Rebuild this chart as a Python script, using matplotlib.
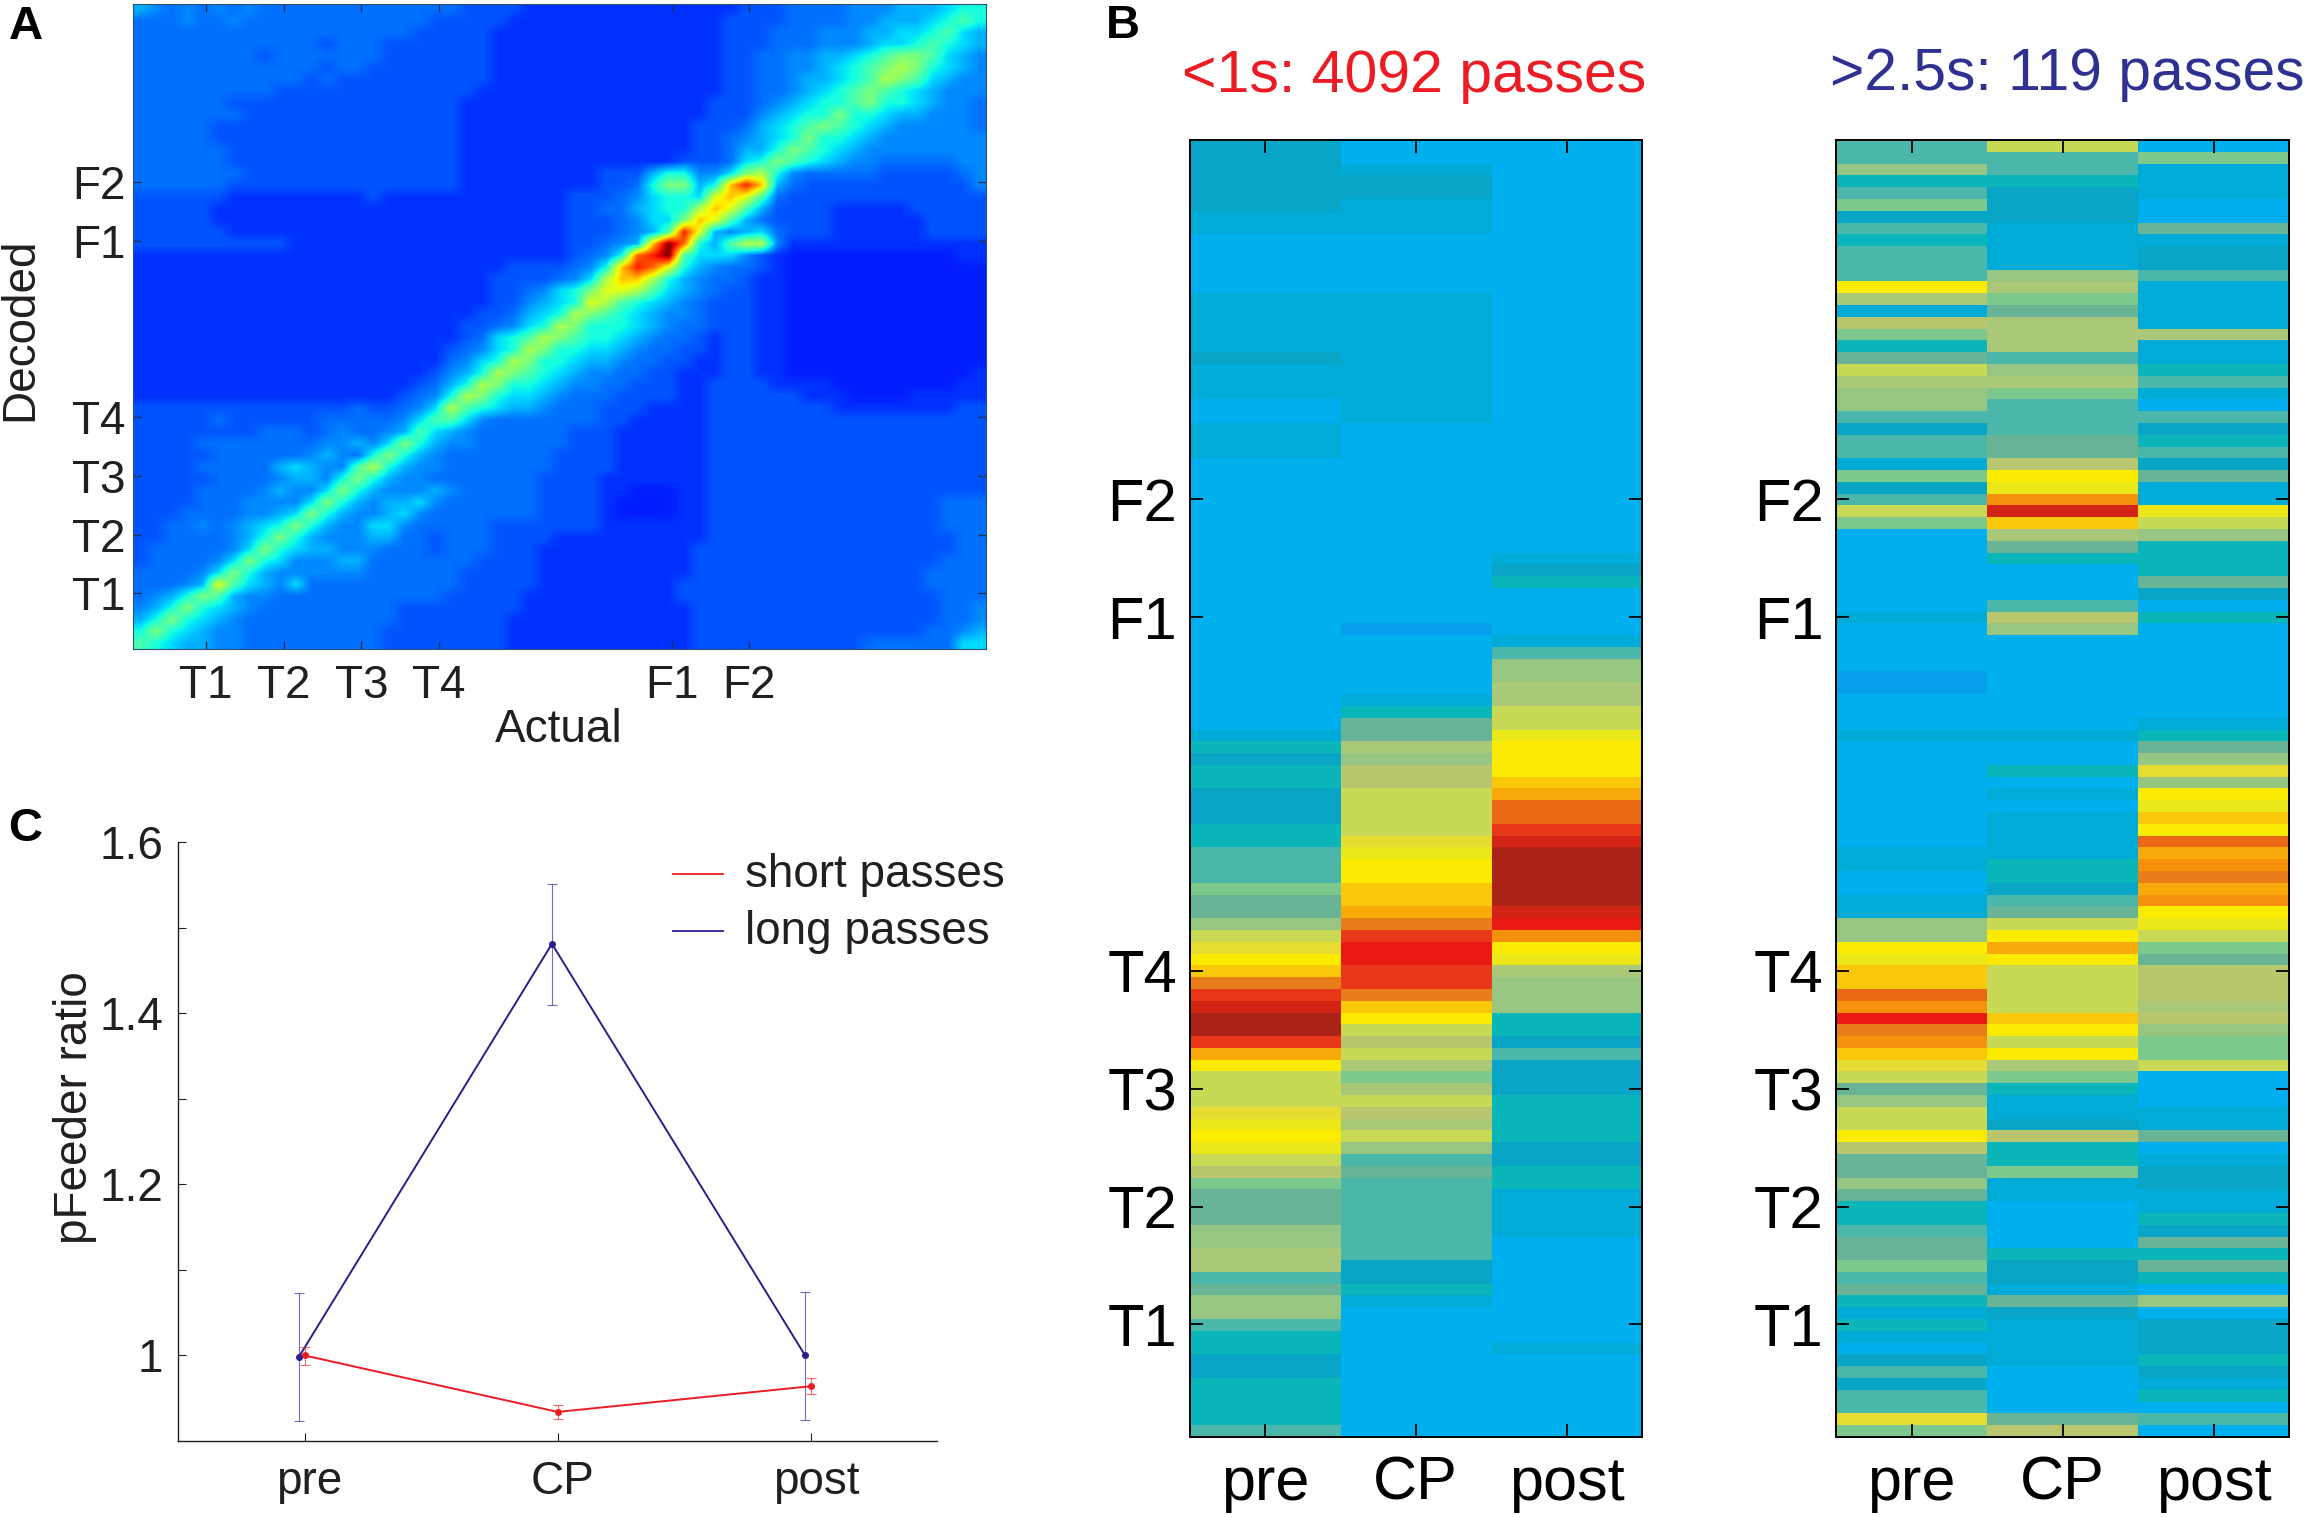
import matplotlib
matplotlib.use('Agg')
import matplotlib.pyplot as plt
import numpy as np
from matplotlib.colors import ListedColormap
from matplotlib.transforms import ScaledTranslation

plt.rcParams['font.family'] = ['Liberation Sans', 'DejaVu Sans']

W, H = 2308, 1517

# panel A: decoding matrix, one hex level per 2 position bins
a_rows = [
    "54343 43433 33333 33333 32222 11111 11111 11112 22333 34445 55677",
    "33343 34333 33333 33332 22221 11111 11111 11122 22333 34455 56787",
    "33333 33333 33333 33322 22211 11111 11111 11122 23334 44556 67865",
    "33333 33333 33233 32222 22211 11111 11111 11122 23334 44566 78765",
    "33333 33323 33333 32222 22211 11111 11111 11122 33445 56789 98654",
    "33333 33333 33233 22222 22211 11111 11111 11122 33445 6789a 97654",
    "33333 33333 32322 22222 22211 11111 11111 11122 33455 678a9 86544",
    "33333 33332 22222 22222 22111 11111 11111 11122 33456 78987 65444",
    "33333 32222 22222 22222 21111 11111 11111 11222 34567 78977 65443",
    "33333 33222 22222 22222 21111 11111 11111 11222 45677 97765 54443",
    "33333 22222 22222 22222 21111 11111 11111 12223 56789 87654 44443",
    "33333 22222 22222 22222 21111 11111 11111 12234 56797 76544 44444",
    "33333 32222 22222 22222 21111 11111 11111 12235 57987 65444 44444",
    "33333 32222 22222 22222 21111 11111 11111 22236 79876 54433 33344",
    "33333 33222 22222 22222 21111 11111 22257 74469 a7433 33322 22234",
    "33333 32222 22222 22222 21111 11111 22379 957ce c5322 22222 22224",
    "22222 21111 11111 21111 11111 11122 23467 76bcb 83222 22222 22222",
    "22222 11111 11111 11111 11111 11122 33567 7acb8 52222 11111 22222",
    "22222 11111 11111 11111 11111 11122 23466 9cb85 32222 11111 12222",
    "22222 21111 11111 11111 11111 11122 23458 eb545 63222 11111 12222",
    "22222 22222 11111 11111 11111 11122 345cf d758a a4111 11111 11111",
    "11111 11111 11111 11111 11111 11123 47def 86664 21000 00000 00011",
    "11111 11111 11111 11111 11112 22234 7cedb 75433 21000 00000 00000",
    "11111 11111 11111 11111 11122 22346 acca7 54332 11000 00000 00000",
    "11111 11111 11111 11111 11122 34679 bba86 54322 11000 00000 00000",
    "11111 11111 11111 11111 11122 4567b a8765 43222 11000 00000 00000",
    "11111 11111 11111 11111 11223 567a9 87654 43222 11000 00000 00000",
    "11111 11111 11111 11111 12234 67a97 77654 33222 11000 00000 00000",
    "11111 11111 11111 11111 12367 8a987 76543 32122 11000 00000 00000",
    "11111 11111 11111 11111 23467 a9776 65433 22122 11000 00000 00000",
    "11111 11111 11111 11111 3467a 97765 54332 21122 11000 00000 00000",
    "11111 11111 11111 11112 457a9 87654 43322 11122 11000 00000 00001",
    "11111 11111 11111 11123 57a97 76544 33222 11222 21111 00000 00011",
    "11111 11111 11111 11234 7a976 65433 32222 11222 22211 10000 11111",
    "22222 22222 22223 22346 a8765 54333 22211 11222 22222 11111 11122",
    "22222 32222 22333 33468 86433 33333 22111 11222 22222 22222 22222",
    "22222 22233 32343 34586 54333 33322 21111 11222 22222 22222 22222",
    "22223 33333 33445 46975 44333 33322 21111 11222 22222 22222 22222",
    "22222 33333 34543 79754 33333 33222 21111 11222 22222 22222 22222",
    "22223 33335 65448 a7544 33333 33222 21111 11222 22222 22222 22222",
    "22222 33334 55479 75443 33333 32222 11111 11222 22222 22222 22222",
    "22223 33345 44697 54445 43333 32222 11000 11222 22222 22222 22222",
    "22223 33444 46975 45564 33333 32222 10000 11222 22222 22222 22333",
    "22233 33445 69754 45643 33333 32222 10000 11222 22222 22222 22333",
    "22334 34567 97544 66433 33322 22222 11111 11222 22222 22222 22333",
    "22333 34579 75444 55332 33322 22111 11111 11222 22222 22222 22233",
    "23333 34697 65544 43332 33322 21111 11111 12222 22222 22222 22233",
    "23333 46976 44455 33333 33222 21111 11111 12222 22222 22222 22333",
    "33334 69754 44444 33333 32222 21111 11111 12222 22222 22222 23333",
    "33345 b8654 63333 33333 32222 21111 11111 22222 22222 22222 23333",
    "34579 85443 33333 33333 22222 11111 11111 22222 22222 22222 22333",
    "45797 65433 33333 33222 22222 11111 11111 12222 22222 22222 22334",
    "57976 54333 33333 33222 22221 11111 11111 12222 22222 22222 22334",
    "79765 44333 33333 32222 22221 11111 11111 12222 22222 22222 23345",
    "87655 44333 33333 32222 22221 11111 11111 12222 22222 22333 33366",
]
# jet value for each hex level
a_levels = [.155, .175, .21, .235, .26, .30, .34, .38, .44, .50, .56, .62, .70, .80, .88, 1.0]

maze_ticks = [10, 20, 30, 40, 70, 80]
maze_labels = ['T1', 'T2', 'T3', 'T4', 'F1', 'F2']

# panel B: one level per row, top to bottom, 110 rows
b_short_pre = ("2222221100 0001111121 1100111000 0000000000 0000000000 "
               "1323322233 4446557abd ehjlmmjfda aabcdca965 5577884577 4332233334")
b_short_cp = ("0012211100 0001111111 1111000000 0000000000 0z00000135 "
              "58799aaaab cddeefhjkk jjheda9a86 8a98a74544 4444422310 0000000000")
b_short_post = ("0000000000 0000000000 0000000000 0000012300 00147788aa "
                "cdddefiijl mmmmmlkgdc 8777332422 2333322331 1110000000 0010000000")
b_long_pre = ("4473462434 44d819635a 8774244162 4a60000000 10000zz000 "
              "1000000000 11001177dc eeigkhgeba 57aad95575 3345564531 31024244b6")
b_long_cp = ("a443222111 1786588847 86444559dc gle8530004 9700000000 "
             "1003010111 133245adfd aaaaedad86 3112933611 0000322152 1111000059")
b_long_post = ("0611100512 2411118113 4104234251 1ca7333520 3000000001 "
               "357b7dcedi fghfgdca65 99989766a0 0011501221 1325353070 2223213040")
b_level_names = 'z0123456789abcdefghijklm'
b_palette = ['#05a0eb', '#00afee', '#00acd7', '#08a5c6', '#0ab6b9', '#4bb7aa', '#69b496',
             '#7dc88c', '#96c682', '#aac878', '#b9c66e', '#c8d955', '#e6dc32', '#ebe819',
             '#faeb00', '#fac80a', '#f8aa0a', '#f5910a', '#e87d19', '#eb6914', '#e83719',
             '#eb1914', '#d22314', '#aa2316']
phases = ['pre', 'CP', 'post']

# panel C
c_x = [1, 2, 3]
short_y = [1.0, 0.934, 0.964]
short_lo = [0.989, 0.926, 0.9545]
short_hi = [1.010, 0.9425, 0.974]
long_x = [0.977, 1.977, 2.977]
long_y = [0.998, 1.481, 1.0]
long_lo = [0.9236, 1.410, 0.925]
long_hi = [1.0726, 1.551, 1.074]

RED = '#ed1c24'
BLUE = '#2a1e8c'
INK = '#231f20'


def px_axes(left, top, right, bottom):
    return fig.add_axes([left / W, 1 - bottom / H, (right - left) / W, (bottom - top) / H])


def px_text(x, y, s, **kw):
    kw.setdefault('ha', 'center')
    kw.setdefault('va', 'center')
    kw.setdefault('color', INK)
    fig.text(x / W, 1 - y / H, s, **kw)


def level_column(s):
    return [b_level_names.index(ch) for ch in s.replace(' ', '')]


fig = plt.figure(figsize=(W / 100, H / 100), dpi=100)

# A
ax = px_axes(132.5, 3.5, 986, 649)
matrix = np.array([[a_levels[int(ch, 16)] for ch in row.replace(' ', '')] for row in a_rows])
ax.imshow(matrix, cmap='jet', vmin=0, vmax=1, aspect='auto', interpolation='bilinear',
          extent=(0.5, 110.5, 0.5, 110.5))
ax.set_xticks(maze_ticks, maze_labels)
ax.set_yticks(maze_ticks, maze_labels)
ax.tick_params(direction='in', length=6, width=1, top=True, right=True, labelsize=33,
               labelcolor=INK, color='#203050')
ax.tick_params(axis='x', pad=11)
ax.tick_params(axis='y', pad=5)
for s in ax.spines.values():
    s.set_linewidth(0.8)
    s.set_color('#305070')
px_text(559, 730, 'Actual', fontsize=33)
px_text(20, 329, 'Decoded', fontsize=33, rotation=90)

# B
panels = [(1189.5, 1642, [b_short_pre, b_short_cp, b_short_post]),
          (1836, 2289.5, [b_long_pre, b_long_cp, b_long_post])]
cmap_b = ListedColormap(b_palette)
for left, right, cols in panels:
    ax = px_axes(left, 139.5, right, 1436.5)
    grid = np.array([level_column(c) for c in cols]).T
    ax.imshow(grid, cmap=cmap_b, vmin=-0.5, vmax=len(b_palette) - 0.5, aspect='auto',
              interpolation='nearest', extent=(0.5, 3.5, 0.5, 110.5))
    ax.set_xticks(c_x, phases)
    ax.set_yticks(maze_ticks, maze_labels)
    ax.tick_params(direction='in', length=9.5, width=1.3, top=True, right=True, labelsize=43,
                   labelcolor='black')
    ax.tick_params(axis='x', labelsize=44, pad=14)
    ax.tick_params(axis='y', pad=9)
    for s in ax.spines.values():
        s.set_linewidth(1.4)
px_text(1414, 77, '<1s: 4092 passes', fontsize=42.5, color=RED)
px_text(2067, 75, '>2.5s: 119 passes', fontsize=42.3, color='#2e3192')

# C
ax = px_axes(178, 842, 937.5, 1441)
for xs, ys, lo, hi, col in [(long_x, long_y, long_lo, long_hi, BLUE),
                            (c_x, short_y, short_lo, short_hi, RED)]:
    ys = np.array(ys)
    ax.errorbar(xs, ys, yerr=[ys - np.array(lo), np.array(hi) - ys], fmt='none', ecolor=col,
                elinewidth=0.8, capsize=3.6, capthick=0.8, alpha=0.65, clip_on=False)
    ax.plot(xs, ys, color=col, lw=1.4, marker='o', ms=4, clip_on=False)
ax.set_xlim(0.5, 3.5)
ax.set_ylim(0.9, 1.6)
ax.set_xticks(c_x, phases)
ax.set_yticks([1, 1.2, 1.4, 1.6], ['1', '1.2', '1.4', '1.6'])
ax.set_yticks([1.1, 1.3, 1.5], minor=True)
ax.tick_params(which='both', direction='in', length=5.5, width=0.8, labelsize=33, labelcolor=INK,
               color=INK)
ax.tick_params(axis='x', pad=14)
ax.tick_params(axis='y', pad=10.5)
# labels sit a little right of their ticks in the original
for lbl in ax.get_xticklabels():
    lbl.set_transform(lbl.get_transform() + ScaledTranslation(0.05, 0, fig.dpi_scale_trans))
ax.spines['top'].set_visible(False)
ax.spines['right'].set_visible(False)
for s in ('left', 'bottom'):
    ax.spines[s].set_linewidth(1)
    ax.spines[s].set_color(INK)
px_text(75, 1108, 'pFeeder ratio', fontsize=33, rotation=90)
# legend entries drawn in axes-fraction terms so they sit beside the curves
ax.plot([(673 - 178) / 759.5, (723 - 178) / 759.5], [1 - 32 / 599] * 2, color=RED, lw=1.3,
        transform=ax.transAxes, clip_on=False)
ax.plot([(673 - 178) / 759.5, (723 - 178) / 759.5], [1 - 89 / 599] * 2, color=BLUE, lw=1.3,
        transform=ax.transAxes, clip_on=False)
px_text(745, 875, 'short passes', fontsize=33, ha='left')
px_text(745, 932, 'long passes', fontsize=33, ha='left')

# panel letters
px_text(26, 27, 'A', fontsize=34, fontweight='bold', color='black')
px_text(1123, 26, 'B', fontsize=34, fontweight='bold', color='black')
px_text(25, 829, 'C', fontsize=34, fontweight='bold', color='black')

fig.savefig('out.png', dpi=100)
